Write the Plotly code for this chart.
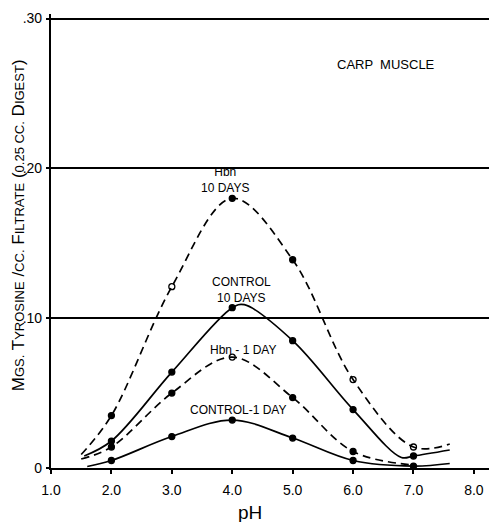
import plotly.graph_objects as go

# Measured points (pH, mg tyrosine per cc filtrate)
ph_points = [2.0, 3.0, 4.0, 5.0, 6.0, 7.0]
hbn_10_days = [0.035, 0.121, 0.180, 0.139, 0.059, 0.014]
control_10_days = [0.018, 0.064, 0.107, 0.085, 0.039, 0.008]
hbn_1_day_ph = [2.0, 3.0, 4.0, 5.0, 6.0]
hbn_1_day = [0.014, 0.050, 0.074, 0.047, 0.011]
control_1_day = [0.005, 0.021, 0.032, 0.020, 0.005, 0.0013]

# Marker styles per point (open vs filled circles)
hbn_10_symbols = ["circle", "circle-open", "circle", "circle", "circle-open", "circle-open"]
hbn_1_symbols = ["circle", "circle", "circle-open", "circle", "circle"]

# Hand-drawn smooth curves through the points, with their extended ends
hbn_10_curve_x = [1.5, 2.0, 3.0, 4.0, 5.0, 6.0, 7.0, 7.6]
hbn_10_curve_y = [0.009, 0.035, 0.121, 0.180, 0.139, 0.059, 0.014, 0.016]
control_10_curve_x = [1.55, 2.0, 3.0, 4.0, 4.2, 5.0, 6.0, 6.8, 7.0, 7.6]
control_10_curve_y = [0.008, 0.018, 0.064, 0.107, 0.109, 0.085, 0.039, 0.007, 0.008, 0.012]
hbn_1_curve_x = [1.5, 2.0, 3.0, 4.0, 5.0, 6.0, 7.0]
hbn_1_curve_y = [0.006, 0.014, 0.050, 0.074, 0.047, 0.011, 0.002]
control_1_curve_x = [1.6, 2.0, 3.0, 4.0, 5.0, 6.0, 7.0, 7.6]
control_1_curve_y = [0.001, 0.005, 0.021, 0.032, 0.020, 0.005, 0.0013, 0.003]

x_tick_vals = [1, 2, 3, 4, 5, 6, 7, 8]
x_tick_text = ["1.0", "2.0", "3.0", "4.0", "5.0", "6.0", "7.0", "8.0"]
y_tick_vals = [0, 0.10, 0.20, 0.30]
y_tick_text = ["0", ".10", ".20", ".30"]

FONT = "Liberation Sans"
DASH = "8px,5px"

fig = go.Figure()


def add_curve(cx, cy, dashed):
    fig.add_trace(go.Scatter(
        x=cx, y=cy, mode="lines",
        line=dict(color="black", width=1.7, shape="spline", smoothing=1.0,
                  dash=DASH if dashed else "solid"),
        hoverinfo="skip", showlegend=False,
    ))


def add_points(px, py, symbols):
    fig.add_trace(go.Scatter(
        x=px, y=py, mode="markers",
        marker=dict(color="black", size=6, symbol=symbols,
                    line=dict(color="black", width=1.3)),
        showlegend=False,
    ))


add_curve(hbn_10_curve_x, hbn_10_curve_y, True)
add_curve(control_10_curve_x, control_10_curve_y, False)
add_curve(hbn_1_curve_x, hbn_1_curve_y, True)
add_curve(control_1_curve_x, control_1_curve_y, False)

add_points(ph_points, hbn_10_days, hbn_10_symbols)
add_points(ph_points, control_10_days, ["circle"] * len(ph_points))
add_points(hbn_1_day_ph, hbn_1_day, hbn_1_symbols)
add_points(ph_points, control_1_day, ["circle"] * len(ph_points))

label_font = dict(family=FONT, size=12, color="black")
annotations = [
    dict(x=6.55, y=0.269, text="CARP  MUSCLE", font=dict(family=FONT, size=13, color="black")),
    dict(x=3.88, y=0.192, text="Hbn<br>10 DAYS", font=label_font),
    dict(x=4.16, y=0.119, text="CONTROL<br>10 DAYS", font=label_font),
    dict(x=4.18, y=0.079, text="Hbn - 1 DAY", font=label_font),
    dict(x=4.10, y=0.039, text="CONTROL-1 DAY", font=label_font),
]
for a in annotations:
    fig.add_annotation(xref="x", yref="y", showarrow=False,
                       xanchor="center", yanchor="middle", **a)


def small_caps(word, big=17, small=13):
    return (f"<span style='font-size:{big}px'>{word[0]}</span>"
            f"<span style='font-size:{small}px'>{word[1:].upper()}</span>")


y_title = " ".join([
    small_caps("Mgs."), small_caps("Tyrosine"),
    "<span style='font-size:17px'>/</span><span style='font-size:13px'>CC.</span>",
    small_caps("Filtrate"),
    "<span style='font-size:17px'>(</span><span style='font-size:13px'>0.25 CC.</span>",
    small_caps("Digest") + "<span style='font-size:17px'>)</span>",
])
fig.add_annotation(xref="paper", yref="paper", x=-0.075, y=0.535, text=y_title,
                   textangle=-90, showarrow=False, xanchor="center", yanchor="middle",
                   font=dict(family=FONT, size=17, color="black"))
fig.add_annotation(xref="x", yref="paper", x=4.29, y=-0.097, text="pH",
                   showarrow=False, xanchor="center", yanchor="middle",
                   font=dict(family=FONT, size=19, color="black"))

fig.update_xaxes(
    range=[1.0, 8.25], tickvals=x_tick_vals, ticktext=x_tick_text,
    showline=True, linecolor="black", linewidth=2.2,
    ticks="outside", ticklen=4, tickwidth=1.5, tickcolor="black",
    ticklabelstandoff=4, showgrid=False, zeroline=False,
    tickfont=dict(family=FONT, size=14, color="black"),
)
fig.update_yaxes(
    range=[0, 0.303], tickvals=y_tick_vals, ticktext=y_tick_text,
    showline=True, linecolor="black", linewidth=2.2,
    ticks="outside", ticklen=3, tickwidth=1.5, tickcolor="black",
    ticklabelstandoff=1, showgrid=True, gridcolor="black", gridwidth=1.6,
    zeroline=False,
    tickfont=dict(family=FONT, size=14, color="black"),
)

fig.update_layout(
    width=489, height=522,
    margin=dict(l=51, r=0, t=14, b=54),
    paper_bgcolor="white", plot_bgcolor="white",
    showlegend=False,
)

fig.write_html("out.html")
